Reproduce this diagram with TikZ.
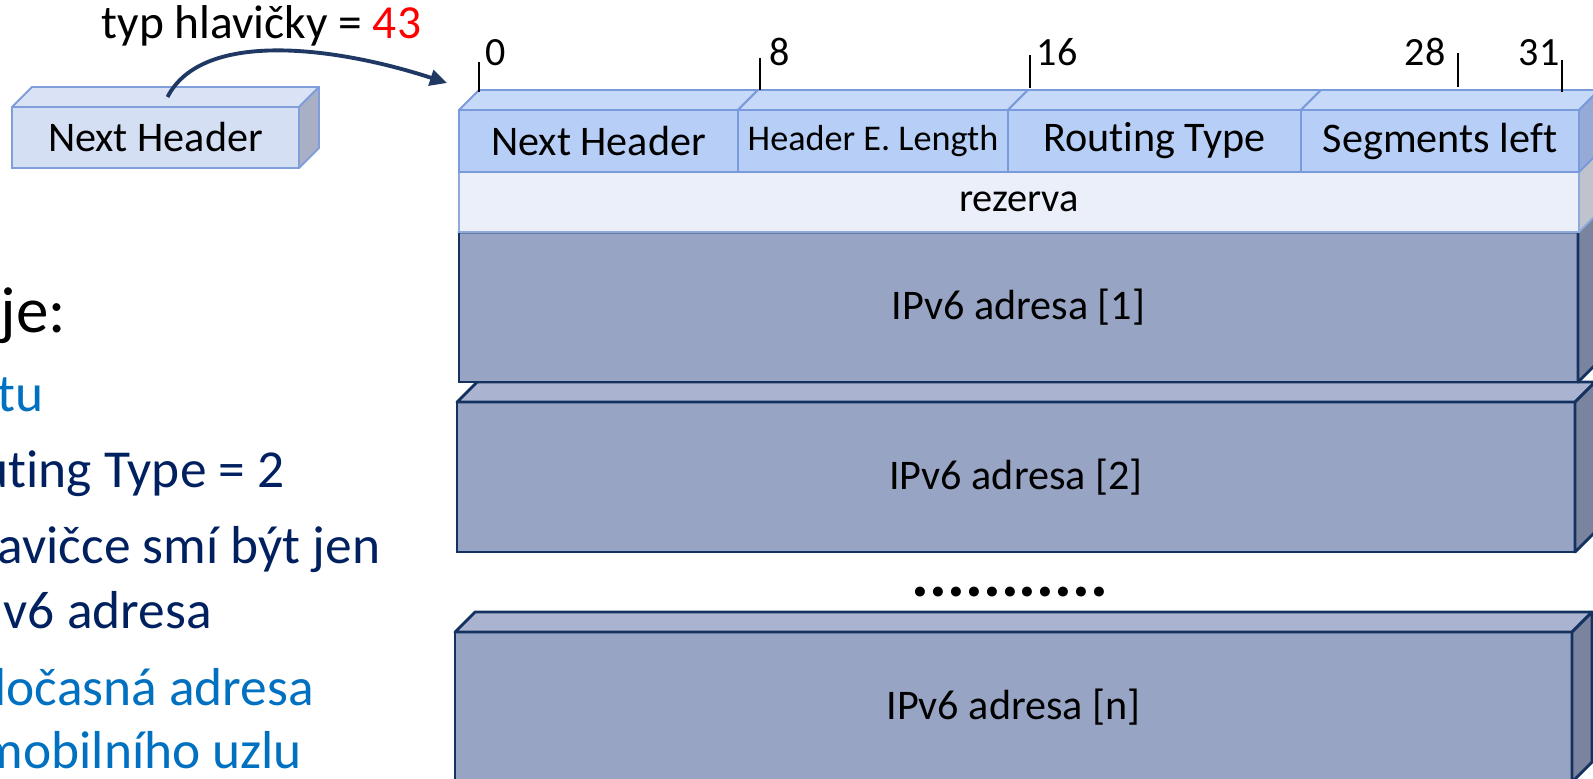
\documentclass[tikz,border=0pt]{standalone}
\usepackage{fontspec}
\setmainfont{Carlito}[Ligatures=NoCommon]
\usetikzlibrary{arrows.meta}

\definecolor{modra}{HTML}{0070C0}
\definecolor{tmava}{HTML}{002060}
\definecolor{sipkaB}{HTML}{1F3864}
\definecolor{maleCelo}{HTML}{D4DFF4}
\definecolor{maleVrch}{HTML}{DAE3F6}
\definecolor{maleBok}{HTML}{A9B0C6}
\definecolor{maleHrana}{HTML}{7F9EDA}
\definecolor{poleCelo}{HTML}{B7CEF6}
\definecolor{poleVrch}{HTML}{C6D9F9}
\definecolor{poleBok}{HTML}{95AAD6}
\definecolor{poleHrana}{HTML}{7A9BDB}
\definecolor{rezCelo}{HTML}{EBEFF9}
\definecolor{rezBok}{HTML}{BFC3CC}
\definecolor{rezHrana}{HTML}{8EAADB}
\definecolor{adrCelo}{HTML}{97A4C4}
\definecolor{adrVrch}{HTML}{AAB4D0}
\definecolor{adrBok}{HTML}{7A849E}
\definecolor{adrHrana}{HTML}{143260}

% top and right face of a box drawn as node #2
\newcommand{\steny}[2]{%
  \filldraw[#1 top] (#2.north west) -- ++(20,-20)
    -- ([shift={(20,-20)}]#2.north east) -- (#2.north east) -- cycle;
  \filldraw[#1 side] (#2.north east) -- ++(20,-20)
    -- ([shift={(20,-20)}]#2.south east) -- (#2.south east) -- cycle;
}

\tikzset{
  kvadr/.style={anchor=north west, inner sep=0pt, outer sep=0pt},
  male front/.style={kvadr, draw=maleHrana, fill=maleCelo, line width=0.55pt,
    minimum width=28.7mm, minimum height=6.1mm, font=\fontsize{12}{14}\selectfont},
  male top/.style={draw=maleHrana, fill=maleVrch, line width=0.55pt, line join=round},
  male side/.style={draw=maleHrana, fill=maleBok, line width=0.55pt, line join=round},
  pole front/.style={kvadr, draw=poleHrana, fill=poleCelo, line width=0.55pt,
    minimum height=6.2mm, font=\fontsize{12}{14}\selectfont},
  pole top/.style={draw=poleHrana, fill=poleVrch, line width=0.55pt, line join=round},
  pole side/.style={draw=poleHrana, fill=poleBok, line width=0.55pt, line join=round},
  rez front/.style={kvadr, draw=rezHrana, fill=rezCelo, line width=0.55pt,
    minimum width=112mm, minimum height=6mm, font=\fontsize{11.5}{13}\selectfont},
  rez top/.style={draw=rezHrana, fill=rezCelo, line width=0.55pt, line join=round},
  rez side/.style={draw=rezHrana, fill=rezBok, line width=0.55pt, line join=round},
  adr front/.style={kvadr, draw=adrHrana, fill=adrCelo, line width=0.8pt,
    minimum height=15mm, font=\fontsize{12}{14}\selectfont},
  adr top/.style={draw=adrHrana, fill=adrVrch, line width=0.8pt, line join=round},
  adr side/.style={draw=adrHrana, fill=adrBok, line width=0.8pt, line join=round},
  carka/.style={line width=0.6pt},
  cislo/.style={anchor=base west, inner sep=0pt, font=\fontsize{11.4}{13}\selectfont},
  sipka/.style={draw=sipkaB, line width=1.1pt, -{Triangle[length=1.7mm, width=1.6mm]}},
  odrazka/.style={anchor=base west, inner sep=0pt, font=\fontsize{15.2}{18}\selectfont},
}

\begin{document}
\begin{tikzpicture}[x=0.1mm, y=-0.1mm]
    \useasboundingbox (0,0) rectangle (1593,778);

    % Next Header of the previous header
    \node[male front] (nhmale) at (12,107) {Next Header};
    \steny{male}{nhmale}
    \node[anchor=base west, inner sep=0pt, font=\fontsize{13.5}{16}\selectfont]
        (typ) at (101,38) {typ hlavičky = \textcolor{red}{43}};

    % IPv6 addresses (from the bottom up)
    \node[adr front, minimum width=111.7mm] (adrn) at (455,632) {IPv6 adresa [n]};
    \steny{adr}{adrn}
    \node[anchor=base, inner sep=0pt, font=\bfseries\fontsize{19}{22}\selectfont]
        (tecky) at (1010,596) {...........};
    \node[adr front, minimum width=111.8mm] (adr2) at (457,402) {IPv6 adresa [2]};
    \steny{adr}{adr2}
    \node[adr front, minimum width=111.9mm] (adr1) at (459,232) {IPv6 adresa [1]};
    \steny{adr}{adr1}

    % reserved row
    \node[rez front] (rez) at (459,172) {rezerva};
    \steny{rez}{rez}

    % header fields
    \node[pole front, minimum width=27.9mm] (pnh) at (459,110) {Next Header};
    \steny{pole}{pnh}
    \node[pole front, minimum width=27.0mm, font=\fontsize{10.3}{12}\selectfont]
        (phel) at (738,110) {Header E. Length};
    \steny{pole}{phel}
    \node[pole front, minimum width=29.3mm] (prt) at (1008,110) {Routing Type};
    \steny{pole}{prt}
    \node[pole front, minimum width=27.8mm] (psl) at (1301,110) {Segments left};
    \steny{pole}{psl}

    % bit positions
    \draw[carka] (479,62) -- (479,92);
    \node[cislo] (b0) at (485,65) {0};
    \draw[carka] (760,58) -- (760,90);
    \node[cislo] (b8) at (769,65) {8};
    \draw[carka] (1030,55) -- (1030,88);
    \node[cislo] (b16) at (1036,65) {16};
    \draw[carka] (1458,53) -- (1458,87);
    \node[cislo] (b28) at (1404,65) {28};
    \draw[carka] (1562,60) -- (1562,92);
    \node[cislo] (b31) at (1518,65) {31};

    % arrow to the routing header
    \coordinate (cil) at (447,83);
    \draw[sipka] ([shift={(12,-10)}]nhmale.north) .. controls (203,28) and (340,48) .. (cil);

    % text on the left
    \node[odrazka, font=\fontsize{18.5}{22}\selectfont] (t1) at (0,332) {je:};
    \node[odrazka, text=modra] (t2) at (-3,411) {tu};
    \node[odrazka, text=tmava] (t3) at (-20,487) {uting Type = 2};
    \node[odrazka, text=tmava] (t4) at (-3,563) {avičce smí být jen};
    \node[odrazka, text=tmava] (t5) at (3,628) {v6 adresa};
    \node[odrazka, text=modra] (t6) at (-22,705) {dočasná adresa};
    \node[odrazka, text=modra] (t7) at (-20,768) {mobilního uzlu};
\end{tikzpicture}
\end{document}
